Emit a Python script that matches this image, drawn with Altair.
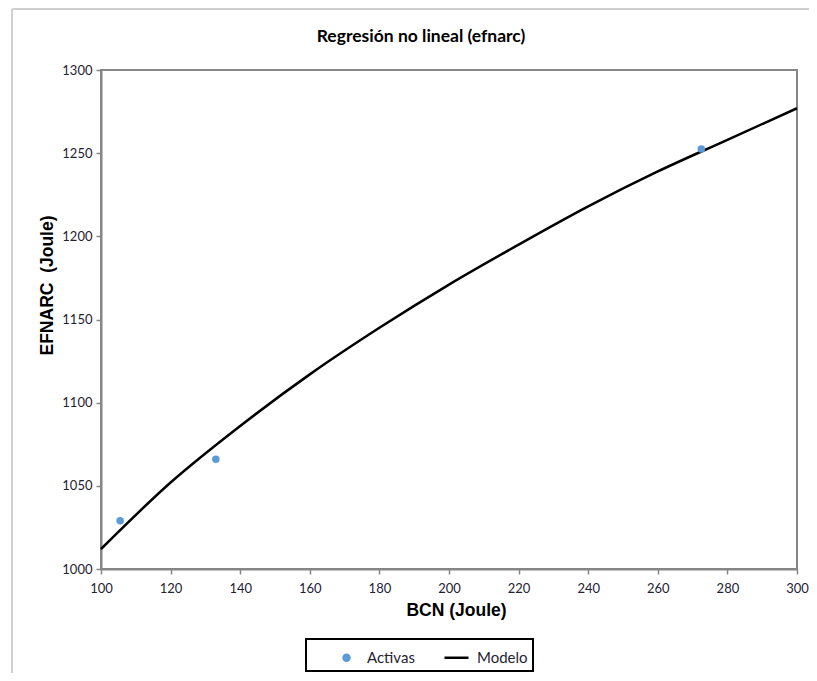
import altair as alt
import pandas as pd

# Observed points ("Activas")
act_x = [105.5, 133.0, 272.5]
act_y = [1029.0, 1066.0, 1252.5]

# Model curve ("Modelo")
mod_x = [100, 120, 140, 160, 180, 200, 220, 240, 260, 280, 300]
mod_y = [1012, 1052, 1086, 1117, 1145, 1171, 1195, 1218, 1239, 1258, 1277]

series = ["Activas", "Modelo"]
colors = ["#5b9bd5", "#000000"]
dot_path = "M0.25,0A0.25,0.25 0 1,1 -0.25,0A0.25,0.25 0 1,1 0.25,0Z"

df_pts = pd.DataFrame({"x": act_x, "y": act_y, "serie": "Activas"})
df_mod = pd.DataFrame({"x": mod_x, "y": mod_y})
df_one = pd.DataFrame({"a": [0]})

xscale = alt.Scale(domain=[100, 300], nice=False, zero=False)
yscale = alt.Scale(domain=[1000, 1300], nice=False, zero=False)

axis_common = dict(
    grid=False,
    format="d",
    labelFlush=False,
    domainColor="#868686",
    domainWidth=2,
    tickColor="#868686",
    tickWidth=1.5,
    tickSize=5,
    labelFont="Lato",
    labelFontSize=13,
    labelColor="#1f2233",
    titleFont="Liberation Sans",
    titleFontSize=17.5,
    titleFontWeight="bold",
    titleColor="#000000",
)

x_enc = alt.X("x:Q", scale=xscale,
              axis=alt.Axis(title="BCN (Joule)", values=list(range(100, 301, 20)),
                            labelPadding=8, titlePadding=6, titleX=355, **axis_common))
y_enc = alt.Y("y:Q", scale=yscale,
              axis=alt.Axis(title="EFNARC\u00a0 (Joule)", values=list(range(1000, 1301, 50)),
                            labelPadding=4, titlePadding=5, titleY=215, **axis_common))

legend = alt.Legend(
    title=None,
    orient="none",
    legendX=205,
    legendY=569,
    direction="horizontal",
    columns=2,
    columnPadding=6,
    padding=5,
    symbolOffset=22,
    symbolSize=576,
    strokeColor="#000000",
    fillColor="#ffffff",
    labelOffset=7,
    labelFont="Lato",
    labelFontSize=15,
    labelColor="#1f2233",
    symbolFillColor="#5b9bd5",
    symbolStrokeWidth=2.5,
    symbolOpacity=1,
)

line = alt.Chart(df_mod).mark_line(color="black", strokeWidth=2.5, interpolate="monotone").encode(
    x=x_enc, y=y_enc
)

pts = alt.Chart(df_pts).mark_point(filled=False, fill="#5b9bd5", strokeWidth=1.5, size=576, opacity=1).encode(
    x=alt.X("x:Q", scale=xscale),
    y=alt.Y("y:Q", scale=yscale),
    color=alt.Color("serie:N", scale=alt.Scale(domain=series, range=colors), legend=legend),
    shape=alt.Shape("serie:N", scale=alt.Scale(domain=series, range=[dot_path, "stroke"]), legend=legend),
)

frame_left = alt.Chart(df_one).mark_rule(color="#d0d0d0", strokeWidth=2).encode(
    x=alt.value(-89), y=alt.value(-61), y2=alt.value(620)
)
frame_top = alt.Chart(df_one).mark_rule(color="#d0d0d0", strokeWidth=2).encode(
    x=alt.value(-89), x2=alt.value(708), y=alt.value(-61)
)

chart = alt.layer(frame_left, frame_top, line, pts).properties(
    width=696,
    height=499,
    title=alt.TitleParams(
        text="Regresión no lineal (efnarc)",
        font="Lato",
        fontSize=17.5,
        fontWeight="bold",
        color="#000000",
        anchor="middle",
        dx=-28,
        dy=61,
        offset=24,
    ),
    autosize=alt.AutoSizeParams(type="none"),
    padding={"left": 93, "top": 62, "right": 12, "bottom": 104},
    background="white",
).configure_view(
    stroke="#868686",
    strokeWidth=2,
).configure_legend(
    strokeWidth=2,
)

chart.save("out.html", embed_options={"renderer": "svg", "actions": False})
